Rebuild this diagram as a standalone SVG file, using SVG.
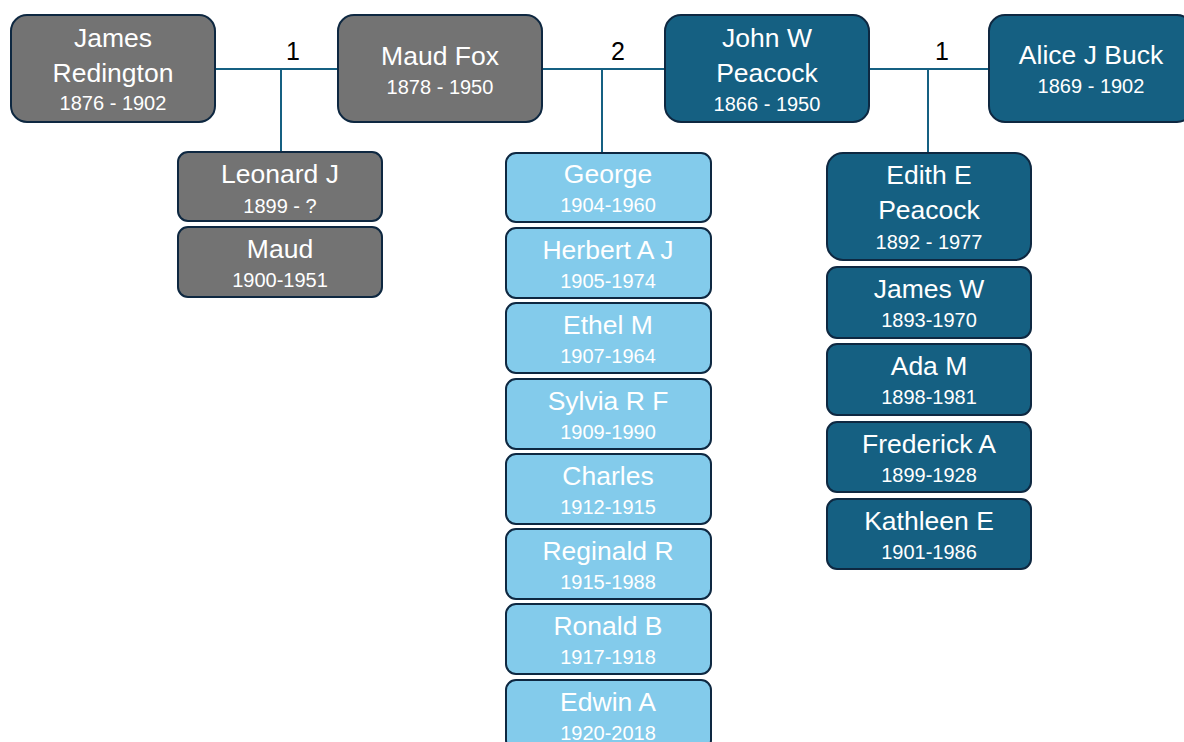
<svg xmlns="http://www.w3.org/2000/svg" width="1184" height="742" viewBox="0 0 1184 742">
<style>
.box{stroke:#0e2841;stroke-width:2}
.gray{fill:#737373}
.dark{fill:#156082}
.light{fill:#83cbeb}
.nm{font-family:"Liberation Sans",Arial,sans-serif;font-size:26.5px;fill:#ffffff;text-anchor:middle}
.dt{font-family:"Liberation Sans",Arial,sans-serif;font-size:20px;fill:#ffffff;text-anchor:middle}
.lbl{font-family:"Liberation Sans",Arial,sans-serif;font-size:25px;fill:#000000;text-anchor:middle}
.conn{stroke:#156082;stroke-width:2;fill:none}
</style>
<rect width="1184" height="742" fill="#ffffff"/>
<g id="connectors">
<path class="conn" d="M215 69H338M281 69V152"/>
<path class="conn" d="M542 69H665M602 69V153"/>
<path class="conn" d="M869 69H989M928 69V153"/>
<text class="lbl" x="293" y="60">1</text>
<text class="lbl" x="618" y="60">2</text>
<text class="lbl" x="942" y="60">1</text>
</g>
<g id="james-redington"><rect class="box gray" x="11" y="15" width="204" height="107" rx="16"/><text class="nm" x="113" y="47">James</text><text class="nm" x="113" y="82">Redington</text><text class="dt" x="113" y="110">1876 - 1902</text></g>
<g id="maud-fox"><rect class="box gray" x="338" y="15" width="204" height="107" rx="16"/><text class="nm" x="440" y="65">Maud Fox</text><text class="dt" x="440" y="94">1878 - 1950</text></g>
<g id="john-peacock"><rect class="box dark" x="665" y="15" width="204" height="107" rx="16"/><text class="nm" x="767" y="47">John W</text><text class="nm" x="767" y="82">Peacock</text><text class="dt" x="767" y="111">1866 - 1950</text></g>
<g id="alice-buck"><rect class="box dark" x="989" y="15" width="204" height="107" rx="16"/><text class="nm" x="1091" y="64">Alice J Buck</text><text class="dt" x="1091" y="93">1869 - 1902</text></g>
<g id="leonard"><rect class="box gray" x="178" y="152" width="204" height="69" rx="10"/><text class="nm" x="280" y="183">Leonard J</text><text class="dt" x="280" y="213">1899 - ?</text></g>
<g id="maud"><rect class="box gray" x="178" y="227" width="204" height="70" rx="10"/><text class="nm" x="280" y="258">Maud</text><text class="dt" x="280" y="287">1900-1951</text></g>
<g id="george"><rect class="box light" x="506" y="153" width="205" height="69" rx="10"/><text class="nm" x="608" y="183">George</text><text class="dt" x="608" y="212">1904-1960</text></g>
<g id="herbert"><rect class="box light" x="506" y="228" width="205" height="70" rx="10"/><text class="nm" x="608" y="259">Herbert A J</text><text class="dt" x="608" y="288">1905-1974</text></g>
<g id="ethel"><rect class="box light" x="506" y="303" width="205" height="70" rx="10"/><text class="nm" x="608" y="334">Ethel M</text><text class="dt" x="608" y="363">1907-1964</text></g>
<g id="sylvia"><rect class="box light" x="506" y="379" width="205" height="70" rx="10"/><text class="nm" x="608" y="410">Sylvia R F</text><text class="dt" x="608" y="439">1909-1990</text></g>
<g id="charles"><rect class="box light" x="506" y="454" width="205" height="70" rx="10"/><text class="nm" x="608" y="485">Charles</text><text class="dt" x="608" y="514">1912-1915</text></g>
<g id="reginald"><rect class="box light" x="506" y="529" width="205" height="70" rx="10"/><text class="nm" x="608" y="560">Reginald R</text><text class="dt" x="608" y="589">1915-1988</text></g>
<g id="ronald"><rect class="box light" x="506" y="604" width="205" height="70" rx="10"/><text class="nm" x="608" y="635">Ronald B</text><text class="dt" x="608" y="664">1917-1918</text></g>
<g id="edwin"><rect class="box light" x="506" y="680" width="205" height="70" rx="10"/><text class="nm" x="608" y="711">Edwin A</text><text class="dt" x="608" y="740">1920-2018</text></g>
<g id="edith"><rect class="box dark" x="827" y="153" width="204" height="107" rx="16"/><text class="nm" x="929" y="184">Edith E</text><text class="nm" x="929" y="219">Peacock</text><text class="dt" x="929" y="249">1892 - 1977</text></g>
<g id="james-w"><rect class="box dark" x="827" y="267" width="204" height="71" rx="10"/><text class="nm" x="929" y="298">James W</text><text class="dt" x="929" y="327">1893-1970</text></g>
<g id="ada"><rect class="box dark" x="827" y="344" width="204" height="71" rx="10"/><text class="nm" x="929" y="375">Ada M</text><text class="dt" x="929" y="404">1898-1981</text></g>
<g id="frederick"><rect class="box dark" x="827" y="422" width="204" height="70" rx="10"/><text class="nm" x="929" y="453">Frederick A</text><text class="dt" x="929" y="482">1899-1928</text></g>
<g id="kathleen"><rect class="box dark" x="827" y="499" width="204" height="70" rx="10"/><text class="nm" x="929" y="530">Kathleen E</text><text class="dt" x="929" y="559">1901-1986</text></g>
</svg>
